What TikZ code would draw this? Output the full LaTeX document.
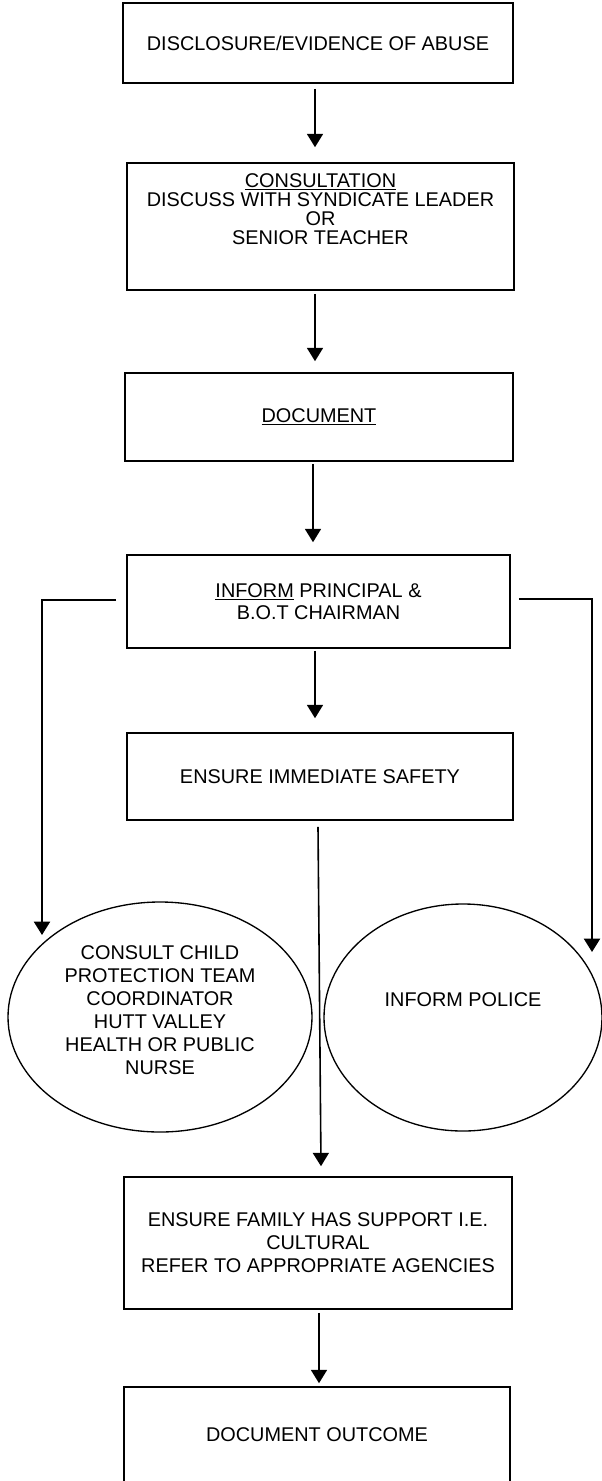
\documentclass[tikz,border=0pt]{standalone}
\usepackage{fontspec}
\setmainfont{Liberation Sans}
\usetikzlibrary{shapes.geometric}
\usetikzlibrary{arrows.meta}
\usetikzlibrary{calc}

\tikzset{
  stepbox/.style={draw, line width=1.2pt, align=center, inner sep=0pt,
    font=\fontsize{14.9}{17.2}\selectfont},
  oval/.style={draw, ellipse, line width=1pt, align=center, inner sep=0pt,
    font=\fontsize{14.9}{17.2}\selectfont},
  flow/.style={line width=1.2pt, -{Triangle[width=12pt,length=10pt]}},
  side/.style={flow, line width=1.6pt},
}

\begin{document}
\begin{tikzpicture}[x=0.75pt,y=0.75pt,yscale=-1,xscale=1]
\useasboundingbox (0,0) rectangle (602,1481);

%Shape: Rectangles
\node[stepbox, minimum width=292.5pt, minimum height=60pt] (disc) at (318,43) {DISCLOSURE/EVIDENCE OF ABUSE};
\node[stepbox, minimum width=290.25pt, minimum height=95.25pt, font=\fontsize{14.9}{14.4}\selectfont] (consult) at (320.5,226.5)
  {\underline{CONSULTATION}\\DISCUSS WITH SYNDICATE LEADER\\OR\\SENIOR TEACHER\\[12pt]\mbox{}};
\node[stepbox, minimum width=291pt, minimum height=66pt] (doc) at (319,417) {\underline{DOCUMENT}};
\node[stepbox, minimum width=287.25pt, minimum height=69.75pt, font=\fontsize{14.9}{16.5}\selectfont] (inform) at (318.5,601.5)
  {\underline{INFORM} PRINCIPAL \&\\B.O.T CHAIRMAN};
\node[stepbox, minimum width=289.5pt, minimum height=65.25pt] (safety) at (320,776.5) {ENSURE IMMEDIATE SAFETY};
\node[stepbox, minimum width=291pt, minimum height=99pt] (support) at (318,1243)
  {ENSURE FAMILY HAS SUPPORT I.E.\\CULTURAL\\REFER TO APPROPRIATE AGENCIES};
\node[stepbox, minimum width=289.5pt, minimum height=72pt] (outcome) at (317,1435) {DOCUMENT OUTCOME};

%Shape: Ellipses
\node[oval, minimum width=228pt, minimum height=172.5pt] (cpt) at (160,1017)
  {CONSULT CHILD\\PROTECTION TEAM\\COORDINATOR\\HUTT VALLEY\\HEALTH OR PUBLIC\\NURSE\\[-7pt]\mbox{}};
\node[oval, minimum width=208.5pt, minimum height=170.25pt] (police) at (463,1017.5)
  {INFORM POLICE\\[9pt]\mbox{}};

\coordinate (cpt in) at (42,935);
\coordinate (police in) at (592,952);

%Straight Lines
\draw[flow] ($(disc.south)+(-3,5)$) -- ($(consult.north)+(-5.5,-15)$);
\draw[flow] ($(consult.south)+(-5.5,3)$) -- ($(doc.north)+(-4,-11)$);
\draw[flow] ($(doc.south)+(-6,2)$) -- ($(inform.north)+(-5.5,-12)$);
\draw[flow] ($(inform.south)+(-3.5,2)$) -- ($(safety.north)+(-5,-14)$);
\draw[flow] ($(safety.south)+(-2,6)$) -- ($(support.north)+(3,-10)$);
\draw[flow] ($(support.south)+(1,3)$) -- ($(outcome.north)+(2,-3)$);

%Side Lines
\draw[side] ($(inform.west)+(-10,-1.5)$) -| (cpt in);
\draw[side] ($(inform.east)+(8,-2.5)$) -| (police in);

\end{tikzpicture}
\end{document}
